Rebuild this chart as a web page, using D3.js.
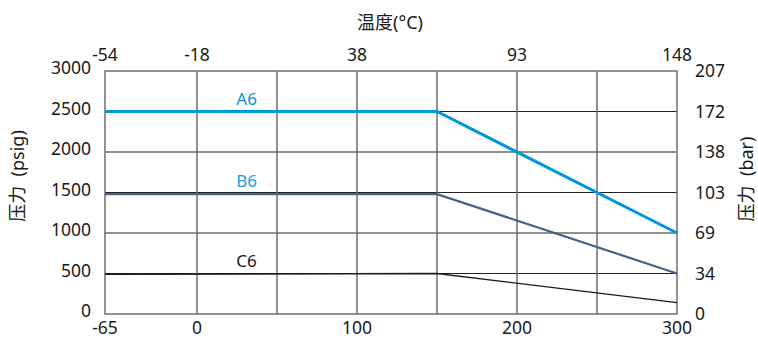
<!DOCTYPE html>
<html>
<head>
<meta charset="utf-8">
<script src="https://cdn.jsdelivr.net/npm/d3@7"></script>
<style>
  body { margin: 0; background: #fff; }
  svg text { font-family: "Noto Sans", "Noto Sans CJK SC", sans-serif; fill: #1a1a1a; }
</style>
</head>
<body>
<div id="chart"></div>
<script>
// Áp suất định mức theo nhiệt độ (°F dưới, °C trên)
const tempF   = [-65, 150, 300];
const seriesA6 = [2500, 2500, 1000];
const seriesB6 = [1480, 1480, 500];
const seriesC6 = [490, 500, 140];

const xTicksF = [-65, 0, 100, 200, 300];
const xTicksC = ["-54", "-18", "38", "93", "148"];
const xGridF  = [0, 50, 100, 150, 200, 250];
const yTicksPsig = [0, 500, 1000, 1500, 2000, 2500, 3000];
const yTicksBar  = ["0", "34", "69", "103", "138", "172", "207"];

const series = [
  { name: "A6", values: seriesA6, color: "#0096db", labelColor: "#0096db", width: 3 },
  { name: "B6", values: seriesB6, color: "#4c5e8d", labelColor: "#1a9ee0", width: 2.2 },
  { name: "C6", values: seriesC6, color: "#1a1a1a", labelColor: "#1a1a1a", width: 1.4 }
];

const width = 758, height = 338;
const L = 105, R = 677, T = 71, B = 314;

// trục x: đoạn -65..0 bị nén lại so với phần còn lại
const x = d3.scaleLinear().domain([-65, 0, 300]).range([L, 197, R]);
const y = d3.scaleLinear().domain([0, 3000]).range([B, T]);

const svg = d3.select("#chart").append("svg")
  .attr("width", width).attr("height", height);

// lưới ngang
svg.append("g").selectAll("line")
  .data(yTicksPsig.slice(1, -1)).join("line")
  .attr("x1", L).attr("x2", R)
  .attr("y1", d => y(d)).attr("y2", d => y(d))
  .attr("stroke", "#222").attr("stroke-width", 1);

// lưới dọc
svg.append("g").selectAll("line")
  .data(xGridF).join("line")
  .attr("x1", d => x(d)).attr("x2", d => x(d))
  .attr("y1", T).attr("y2", B)
  .attr("stroke", "#6e6e6e").attr("stroke-width", 1.5);

// khung
svg.append("rect")
  .attr("x", L).attr("y", T).attr("width", R - L).attr("height", B - T)
  .attr("fill", "none").attr("stroke", "#6e6e6e").attr("stroke-width", 1.5);

// các đường
const line = d3.line().x((d, i) => x(tempF[i])).y(d => y(d));
svg.append("g").selectAll("path")
  .data(series).join("path")
  .attr("d", d => line(d.values))
  .attr("fill", "none")
  .attr("stroke", d => d.color)
  .attr("stroke-width", d => d.width);

// nhãn đường
svg.append("g").selectAll("text")
  .data(series).join("text")
  .attr("x", x(31))
  .attr("y", d => y(d.values[0]) - 7)
  .attr("text-anchor", "middle")
  .attr("font-size", 17)
  .style("fill", d => d.labelColor)
  .text(d => d.name);

const fs = 17.5;

// trục trái (psig)
svg.append("g").selectAll("text")
  .data(yTicksPsig).join("text")
  .attr("x", 91).attr("y", d => y(d) + 3)
  .attr("text-anchor", "end")
  .attr("font-size", fs)
  .text(d => d);

// trục phải (bar)
svg.append("g").selectAll("text")
  .data(yTicksBar).join("text")
  .attr("x", 695).attr("y", (d, i) => y(yTicksPsig[i]) + 6)
  .attr("font-size", fs)
  .text(d => d);

// trục dưới (°F)
svg.append("g").selectAll("text")
  .data(xTicksF).join("text")
  .attr("x", d => x(d)).attr("y", 334)
  .attr("text-anchor", "middle")
  .attr("font-size", fs)
  .text(d => d);

// trục trên (°C)
svg.append("g").selectAll("text")
  .data(xTicksC).join("text")
  .attr("x", (d, i) => x(xTicksF[i])).attr("y", 61)
  .attr("text-anchor", "middle")
  .attr("font-size", fs)
  .text(d => d);

// tiêu đề
svg.append("text")
  .attr("x", 390).attr("y", 29)
  .attr("text-anchor", "middle")
  .attr("font-size", 18)
  .text("温度(°C)");

svg.append("text")
  .attr("transform", "translate(24,176) rotate(-90)")
  .attr("text-anchor", "middle")
  .attr("font-size", 18)
  .style("white-space", "pre")
  .text("压力  (psig)");

svg.append("text")
  .attr("transform", "translate(753,179) rotate(-90)")
  .attr("text-anchor", "middle")
  .attr("font-size", 18)
  .style("white-space", "pre")
  .text("压力  (bar)");
</script>
</body>
</html>
